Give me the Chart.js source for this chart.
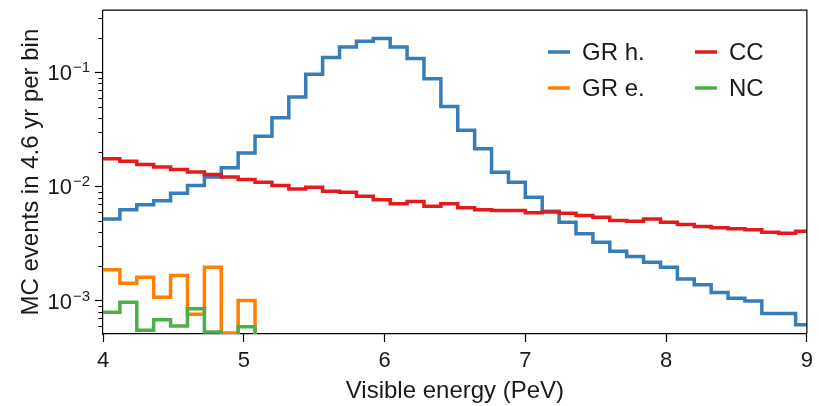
<!DOCTYPE html>
<html>
<head>
<meta charset="utf-8">
<script src="https://cdn.jsdelivr.net/npm/chart.js@4.4.1/dist/chart.umd.min.js"></script>
<style>
  html, body { margin: 0; padding: 0; background: #fff; }
  #wrap { width: 819px; height: 406px; }
</style>
</head>
<body>
<div id="wrap"><canvas id="chart" width="819" height="406"></canvas></div>
<script>
// bin edges (PeV), 0.12 PeV wide
const binEdges = [4.00, 4.12, 4.24, 4.36, 4.48, 4.60, 4.72, 4.84, 4.96, 5.08, 5.20, 5.32, 5.44,
  5.56, 5.68, 5.80, 5.92, 6.04, 6.16, 6.28, 6.40, 6.52, 6.64, 6.76, 6.88, 7.00, 7.12, 7.24,
  7.36, 7.48, 7.60, 7.72, 7.84, 7.96, 8.08, 8.20, 8.32, 8.44, 8.56, 8.68, 8.80, 8.92, 9.04];

const grHadronic = [5.2e-3, 6.25e-3, 6.9e-3, 7.5e-3, 8.7e-3, 1.02e-2, 1.21e-2, 1.46e-2, 1.96e-2,
  2.75e-2, 4.0e-2, 6.07e-2, 9.6e-2, 0.135, 0.167, 0.187, 0.198, 0.167, 0.132, 0.088, 0.0503,
  0.031, 0.0214, 0.01335, 0.0109, 8.05e-3, 6.07e-3, 4.86e-3, 3.85e-3, 3.25e-3, 2.71e-3,
  2.43e-3, 2.17e-3, 1.96e-3, 1.55e-3, 1.38e-3, 1.18e-3, 1.05e-3, 9.9e-4, 7.7e-4, 7.7e-4, 6.15e-4];

const grElectron = [1.86e-3, 1.42e-3, 1.60e-3, 1.07e-3, 1.66e-3, 7.6e-4, 1.96e-3, 5.2e-4, 1.0e-3];

const ccValues = [1.75e-2, 1.66e-2, 1.56e-2, 1.48e-2, 1.41e-2, 1.34e-2, 1.27e-2, 1.21e-2, 1.15e-2,
  1.09e-2, 1.02e-2, 9.5e-3, 9.86e-3, 9.1e-3, 8.9e-3, 8.2e-3, 7.65e-3, 7.05e-3, 7.4e-3, 6.7e-3,
  7.05e-3, 6.5e-3, 6.25e-3, 6.15e-3, 6.15e-3, 5.88e-3, 5.96e-3, 5.83e-3, 5.57e-3, 5.38e-3,
  5.03e-3, 4.96e-3, 5.2e-3, 4.86e-3, 4.65e-3, 4.46e-3, 4.35e-3, 4.26e-3, 4.17e-3, 3.97e-3,
  3.9e-3, 4.06e-3];

// bin 7 is empty (drawn below the axis)
const ncValues = [7.9e-4, 9.7e-4, 5.5e-4, 6.8e-4, 6.0e-4, 8.5e-4, 5.3e-4, 1e-4, 5.9e-4];

const seriesLabels = ["GR h.", "GR e.", "CC", "NC"];
const seriesColors = ["#377eb8", "#ff7f00", "#e41a1c", "#4daf4a"];

const FONT = "'Liberation Sans', Arial, Helvetica, sans-serif";
const TEXT = "#1a1a1a";
const FS = 24;      // titles, legend
const TICK_FS = 22; // tick labels
const Y_MIN = 5.1e-4, Y_MAX = 0.35;

// step-histogram points: left edge of each bin, plus closing point
function stepPoints(values, closeTo) {
  const pts = values.map((v, i) => ({ x: binEdges[i], y: v }));
  pts.push({ x: binEdges[values.length], y: closeTo !== undefined ? closeTo : values[values.length - 1] });
  return pts;
}

function isDecade(v) {
  const p = Math.log10(v);
  return Math.abs(p - Math.round(p)) < 1e-6;
}

const frameAndLegend = {
  id: "frameAndLegend",
  afterDraw(chart) {
    const { ctx, chartArea: a, scales } = chart;
    ctx.save();
    // top and right spines
    ctx.strokeStyle = "#000";
    ctx.lineWidth = 1.2;
    ctx.beginPath();
    ctx.moveTo(a.left, a.top);
    ctx.lineTo(a.right, a.top);
    ctx.lineTo(a.right, a.bottom);
    ctx.stroke();

    // minor log ticks on y
    ctx.lineWidth = 1;
    ctx.beginPath();
    for (let p = -4; p <= 0; p++) {
      for (let m = 2; m <= 9; m++) {
        const v = m * Math.pow(10, p);
        if (v < Y_MIN || v > Y_MAX) continue;
        const y = Math.round(scales.y.getPixelForValue(v)) + 0.5;
        ctx.moveTo(a.left - 4.5, y);
        ctx.lineTo(a.left, y);
      }
    }
    ctx.stroke();

    // y labels 10^n with a raised exponent
    ctx.fillStyle = TEXT;
    ctx.textBaseline = "alphabetic";
    ctx.textAlign = "right";
    scales.y.ticks.forEach(t => {
      if (!isDecade(t.value)) return;
      const y = scales.y.getPixelForValue(t.value);
      const exp = "\u2212" + Math.abs(Math.round(Math.log10(t.value)));
      const xr = a.left - 13;
      ctx.font = "15px " + FONT;
      const ew = ctx.measureText(exp).width;
      ctx.fillText(exp, xr, y);
      ctx.font = TICK_FS + "px " + FONT;
      ctx.fillText("10", xr - ew - 1, y + 8);
    });

    // legend, two columns
    const cols = [548, 695], rows = [52, 88];
    const order = [[0, 0, 0], [1, 0, 1], [2, 1, 0], [3, 1, 1]];
    ctx.font = FS + "px " + FONT;
    ctx.textBaseline = "middle";
    ctx.textAlign = "left";
    order.forEach(([i, c, r]) => {
      const ds = chart.data.datasets.find(d => d.label === seriesLabels[i]);
      const x = cols[c], y = rows[r];
      ctx.strokeStyle = ds.borderColor;
      ctx.lineWidth = 3.5;
      ctx.beginPath();
      ctx.moveTo(x, y);
      ctx.lineTo(x + 22, y);
      ctx.stroke();
      ctx.fillStyle = TEXT;
      ctx.fillText(ds.label, x + 34, y + 1);
    });
    ctx.restore();
  }
};

const baseDs = {
  stepped: "before",
  pointRadius: 0,
  borderWidth: 3.5,
  fill: false,
  tension: 0
};

new Chart(document.getElementById("chart").getContext("2d"), {
  type: "line",
  data: {
    datasets: [
      Object.assign({}, baseDs, { label: seriesLabels[0], data: stepPoints(grHadronic), borderColor: seriesColors[0], order: 4 }),
      Object.assign({}, baseDs, { label: seriesLabels[1], data: stepPoints(grElectron, 1e-4), borderColor: seriesColors[1], order: 3 }),
      Object.assign({}, baseDs, { label: seriesLabels[2], data: stepPoints(ccValues), borderColor: seriesColors[2], order: 2 }),
      Object.assign({}, baseDs, { label: seriesLabels[3], data: stepPoints(ncValues, 1e-4), borderColor: seriesColors[3], order: 1 })
    ]
  },
  options: {
    responsive: false,
    animation: false,
    layout: { padding: { top: 10, right: 6, left: 0, bottom: 0 } },
    plugins: {
      legend: { display: false },
      tooltip: { enabled: false }
    },
    scales: {
      x: {
        type: "linear",
        min: 4,
        max: 9,
        afterFit(scale) { scale.height = 72; },
        ticks: { stepSize: 1, color: TEXT, font: { family: FONT, size: TICK_FS }, padding: 6, maxRotation: 0 },
        grid: { drawOnChartArea: false, tickLength: 8, tickColor: "#000", tickWidth: 1.2 },
        border: { color: "#000", width: 1.2 },
        title: {
          display: true,
          text: "Visible energy (PeV)",
          color: TEXT,
          font: { family: FONT, size: FS },
          padding: { top: 0, bottom: 0 }
        }
      },
      y: {
        type: "logarithmic",
        min: Y_MIN,
        max: Y_MAX,
        afterFit(scale) { scale.width = 103; },
        ticks: {
          autoSkip: false,
          callback() { return ""; }
        },
        grid: {
          drawOnChartArea: false,
          tickLength: 8,
          tickWidth: 1.2,
          tickColor(ctx) {
            return ctx.tick && isDecade(ctx.tick.value) ? "#000" : "rgba(0,0,0,0)";
          }
        },
        border: { color: "#000", width: 1.2 },
        title: {
          display: true,
          text: "MC events in 4.6 yr per bin",
          color: TEXT,
          font: { family: FONT, size: FS },
          padding: { top: 17, bottom: 0 }
        }
      }
    }
  },
  plugins: [frameAndLegend]
});
</script>
</body>
</html>
